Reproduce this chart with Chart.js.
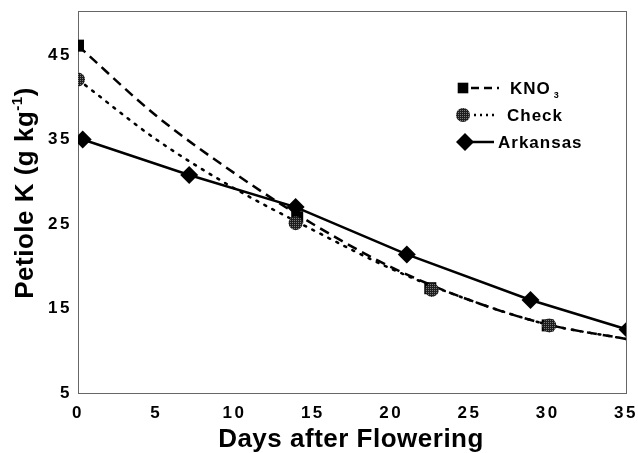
<!DOCTYPE html>
<html>
<head>
<meta charset="utf-8">
<script src="https://cdn.jsdelivr.net/npm/chart.js@4"></script>
<style>
  html, body { margin: 0; padding: 0; background: #fff; }
  #wrap { width: 638px; height: 453px; }
</style>
</head>
<body>
<div id="wrap"><canvas id="petioleChart" width="638" height="453"></canvas></div>
<script>
// measured points (days after flowering, petiole K g/kg)
const kno3Days = [0, 14, 22.5, 30];
const kno3K = [46.1, 25.8, 17.4, 13.0];
const checkDays = [0, 13.9, 22.6, 30.1];
const checkK = [42.1, 25.1, 17.2, 13.0];
const arkDays = [0.3, 7.1, 13.9, 21.0, 28.9, 35.1];
const arkK = [35.0, 30.8, 27.0, 21.4, 16.0, 12.5];

// fitted curves
const fitDays = [0, 5, 10, 15, 20, 25, 30, 35];
const kno3Fit = [46.1, 37.8, 31.0, 25.0, 19.9, 16.0, 13.1, 11.4];
const checkFit = [42.1, 35.0, 29.2, 24.3, 19.7, 16.0, 13.1, 11.4];

const xTicks = [0, 5, 10, 15, 20, 25, 30, 35];
const yTicks = [5, 15, 25, 35, 45];

const FONT = '"Liberation Sans", Arial, sans-serif';

function pts(xs, ys) {
  return xs.map(function (x, i) { return { x: x, y: ys[i] }; });
}

// stippled gray fill for the Check circles
function stipple() {
  const c = document.createElement('canvas');
  c.width = 2; c.height = 2;
  const g = c.getContext('2d');
  g.fillStyle = '#1e1e1e';
  g.fillRect(0, 0, 2, 2);
  g.fillStyle = '#7a7a7a';
  g.fillRect(0, 0, 1, 1);
  return g.createPattern(c, 'repeat');
}
const circleFill = stipple();

function noPad(scale) {
  scale.paddingLeft = 0;
  scale.paddingRight = 0;
  scale.paddingTop = 0;
  scale.paddingBottom = 0;
}

const framePlugin = {
  id: 'frame',
  beforeDraw: function (chart) {
    chart.ctx.letterSpacing = '2.5px';
  },
  beforeDatasetsDraw: function (chart) {
    const a = chart.chartArea;
    const ctx = chart.ctx;
    ctx.letterSpacing = '0px';
    ctx.save();
    ctx.strokeStyle = '#666';
    ctx.lineWidth = 1;
    ctx.strokeRect(a.left + 0.5, a.top + 0.5, a.right - a.left, a.bottom - a.top);
    ctx.restore();
  },
  afterDraw: function (chart) {
    const ctx = chart.ctx;
    ctx.save();
    ctx.fillStyle = '#000';
    ctx.textBaseline = 'alphabetic';

    // x title
    ctx.font = 'bold 26px ' + FONT;
    ctx.textAlign = 'center';
    ctx.letterSpacing = '0.5px';
    ctx.fillText('Days after Flowering', 351, 447);

    // y title with superscript
    ctx.save();
    ctx.translate(33, 193);
    ctx.rotate(-Math.PI / 2);
    ctx.textAlign = 'left';
    const big = 'bold 26px ' + FONT;
    const small = 'bold 15px ' + FONT;
    const p1 = 'Petiole K (g kg', sup = '-1', p2 = ')';
    ctx.font = big; const w1 = ctx.measureText(p1).width; const w3 = ctx.measureText(p2).width;
    ctx.font = small; const w2 = ctx.measureText(sup).width;
    let x = -(w1 + w2 + w3) / 2;
    ctx.font = big; ctx.fillText(p1, x, 0); x += w1;
    ctx.font = small; ctx.fillText(sup, x, -11); x += w2;
    ctx.font = big; ctx.fillText(p2, x, 0);
    ctx.restore();

    // legend
    const H = Chart.helpers;
    ctx.letterSpacing = '0px';
    ctx.lineWidth = 2.5;
    ctx.strokeStyle = '#000';
    // KNO3
    ctx.fillStyle = '#000';
    H.drawPoint(ctx, { pointStyle: 'rect', radius: 7.5, rotation: 0, borderWidth: 0 }, 463, 88);
    ctx.setLineDash([8, 5]);
    ctx.beginPath(); ctx.moveTo(471, 88); ctx.lineTo(499, 88); ctx.stroke();
    // Check
    ctx.fillStyle = circleFill;
    H.drawPoint(ctx, { pointStyle: 'circle', radius: 7, rotation: 0, borderWidth: 0 }, 463, 115);
    ctx.setLineDash([2, 4]);
    ctx.beginPath(); ctx.moveTo(474, 115); ctx.lineTo(498, 115); ctx.stroke();
    // Arkansas
    ctx.fillStyle = '#000';
    H.drawPoint(ctx, { pointStyle: 'rectRot', radius: 9, rotation: 0, borderWidth: 0 }, 465, 142);
    ctx.setLineDash([]);
    ctx.beginPath(); ctx.moveTo(472, 142); ctx.lineTo(494, 142); ctx.stroke();

    ctx.fillStyle = '#000';
    ctx.font = 'bold 17px ' + FONT;
    ctx.textAlign = 'left';
    ctx.letterSpacing = '1px';
    ctx.fillText('KNO', 510, 94);
    const wk = ctx.measureText('KNO').width;
    ctx.font = 'bold 9px ' + FONT;
    ctx.fillText('3', 510 + wk + 3, 98);
    ctx.font = 'bold 17px ' + FONT;
    ctx.fillText('Check', 507, 121);
    ctx.fillText('Arkansas', 498, 148);
    ctx.restore();
  }
};

const ctx = document.getElementById('petioleChart').getContext('2d');
const petioleChart = new Chart(ctx, {
  type: 'scatter',
  data: {
    datasets: [{
      label: 'Arkansas',
      data: pts(arkDays, arkK),
      showLine: true,
      borderColor: '#000',
      borderWidth: 2.5,
      backgroundColor: '#000',
      pointStyle: 'rectRot',
      pointRadius: 9,
      pointBorderWidth: 0
    }, {
      label: 'Check',
      data: pts(checkDays, checkK),
      showLine: false,
      backgroundColor: circleFill,
      pointStyle: 'circle',
      pointRadius: 7,
      pointBorderWidth: 0
    }, {
      label: 'KNO3',
      data: pts(kno3Days, kno3K),
      showLine: false,
      backgroundColor: '#000',
      pointStyle: 'rect',
      pointRadius: 8.5,
      pointBorderWidth: 0
    }, {
      label: 'KNO3 fit',
      data: pts(fitDays, kno3Fit),
      showLine: true,
      cubicInterpolationMode: 'monotone',
      borderColor: '#000',
      borderWidth: 2.5,
      borderDash: [10, 6],
      pointRadius: 0
    }, {
      label: 'Check fit',
      data: pts(fitDays, checkFit),
      showLine: true,
      cubicInterpolationMode: 'monotone',
      borderColor: '#000',
      borderWidth: 2.5,
      borderDash: [2, 7],
      borderCapStyle: 'round',
      pointRadius: 0
    }]
  },
  options: {
    responsive: false,
    animation: false,
    layout: { padding: { left: 0, right: 12, top: 11, bottom: 0 } },
    plugins: {
      legend: { display: false },
      tooltip: { enabled: false }
    },
    scales: {
      x: {
        type: 'linear',
        min: 0,
        max: 35,
        afterBuildTicks: function (scale) {
          scale.ticks = xTicks.map(function (v) { return { value: v }; });
        },
        afterFit: function (scale) { scale.height = 60; noPad(scale); },
        grid: { display: false, drawTicks: false },
        border: { display: false },
        ticks: {
          padding: 10,
          color: '#000',
          maxRotation: 0,
          autoSkip: false,
          font: { family: FONT, size: 17, weight: 'bold' }
        }
      },
      y: {
        min: 5,
        max: 50.2,
        afterBuildTicks: function (scale) {
          scale.ticks = yTicks.map(function (v) { return { value: v }; });
        },
        afterFit: function (scale) { scale.width = 78; noPad(scale); },
        grid: { display: false, drawTicks: false },
        border: { display: false },
        ticks: {
          padding: 6,
          color: '#000',
          font: { family: FONT, size: 17, weight: 'bold' }
        }
      }
    }
  },
  plugins: [framePlugin]
});
</script>
</body>
</html>
